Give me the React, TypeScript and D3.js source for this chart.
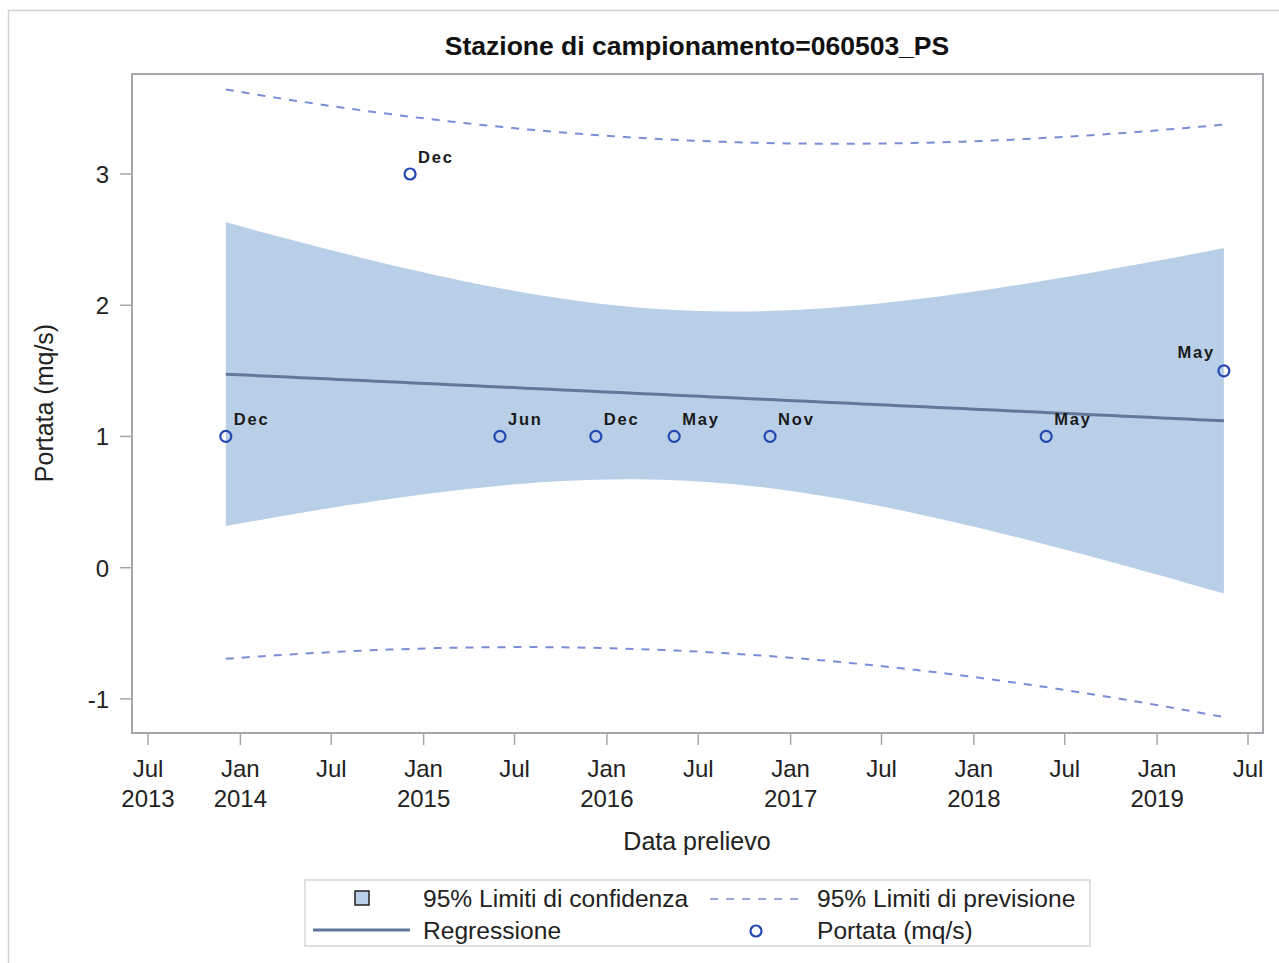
import React from "react";
import * as d3 from "d3";

const sampleDates = ["2013-12-03", "2014-12-05", "2015-06-02", "2015-12-10", "2016-05-14", "2016-11-21", "2018-05-25", "2019-05-14"];
const sampleValues = [1, 3, 1, 1, 1, 1, 1, 1.5];
const pointLabels = ["Dec", "Dec", "Jun", "Dec", "May", "Nov", "May", "May"];
const yTicks = [-1, 0, 1, 2, 3];
const titleText = "Stazione di campionamento=060503_PS";
const xLabel = "Data prelievo";
const yLabel = "Portata (mq/s)";
const legendLabels = ["95% Limiti di confidenza", "95% Limiti di previsione", "Regressione", "Portata (mq/s)"];
const T975_DF6 = 2.446912;

const W = 1279, H = 963;
const FL = 132, FR = 1263, FT = 74, FB = 733;
const FONT = "'Liberation Sans', Arial, sans-serif";

export default function App() {
  const parse = d3.timeParse("%Y-%m-%d");
  const dates = sampleDates.map((d) => parse(d) as Date);
  const x = d3.scaleTime().domain([new Date(2013, 6, 1), new Date(2019, 6, 1)]).range([148, 1248]);
  const y = d3.scaleLinear().domain([-1.26, 3.762]).range([FB, FT]);

  // OLS regression on time (days)
  const t = dates.map((d) => d.getTime() / 86400000);
  const n = t.length;
  const mt = d3.mean(t) as number;
  const my = d3.mean(sampleValues) as number;
  const sxx = d3.sum(t, (v) => (v - mt) ** 2);
  const sxy = d3.sum(t.map((v, i) => (v - mt) * (sampleValues[i] - my)));
  const b = sxy / sxx;
  const a = my - b * mt;
  const sse = d3.sum(t.map((v, i) => (sampleValues[i] - (a + b * v)) ** 2));
  const s = Math.sqrt(sse / (n - 2));
  const t0 = d3.min(t) as number, t1 = d3.max(t) as number;
  const steps = 80;
  const band = d3.range(steps + 1).map((k) => {
    const tv = t0 + ((t1 - t0) * k) / steps;
    const fit = a + b * tv;
    const se = Math.sqrt(1 / n + (tv - mt) ** 2 / sxx);
    const sp = Math.sqrt(1 + 1 / n + (tv - mt) ** 2 / sxx);
    return {
      date: new Date(tv * 86400000),
      fit,
      cl: fit - T975_DF6 * s * se,
      cu: fit + T975_DF6 * s * se,
      pl: fit - T975_DF6 * s * sp,
      pu: fit + T975_DF6 * s * sp,
    };
  });

  const area = d3.area<any>().x((d) => x(d.date)).y0((d) => y(d.cl)).y1((d) => y(d.cu));
  const lineOf = (key: string) => d3.line<any>().x((d) => x(d.date)).y((d) => y(d[key]))(band) as string;

  const xTicks = d3.timeMonth.every(6)!.range(new Date(2013, 6, 1), new Date(2019, 6, 2));
  const monthFmt = d3.timeFormat("%b");
  const yearFmt = d3.timeFormat("%Y");

  const bandColor = "#b9cfe7";
  const regColor = "#63779b";
  const predColor = "#7b8dd6";
  const ptColor = "#2448b0";
  const axisColor = "#a4a8ac";
  const textColor = "#222";

  const lx = 305, ly = 880, lw = 785, lh = 66;
  const r1 = 898, r2 = 930;
  const FS = 24;
  const LFS = 24.6;

  return (
    <svg width={W} height={H} style={{ position: "absolute", left: 0, top: 0 }} fontFamily={FONT}>
      <rect x={8.5} y={10.5} width={W} height={H} fill="white" stroke="#d2d2d2" strokeWidth={1.5} />
      <text x={697} y={55} textAnchor="middle" fontSize={26.5} fontWeight="bold" fill="#111">
        {titleText}
      </text>
      <clipPath id="plotclip">
        <rect x={FL} y={FT} width={FR - FL} height={FB - FT} />
      </clipPath>
      <g clipPath="url(#plotclip)">
        <path d={area(band) as string} fill={bandColor} />
        <path d={lineOf("pu")} fill="none" stroke={predColor} strokeWidth={2} strokeDasharray="8,8" />
        <path d={lineOf("pl")} fill="none" stroke={predColor} strokeWidth={2} strokeDasharray="8,8" />
        <path d={lineOf("fit")} fill="none" stroke={regColor} strokeWidth={3} />
        {dates.map((d, i) => (
          <circle key={i} cx={x(d)} cy={y(sampleValues[i])} r={5.5} fill="none" stroke={ptColor} strokeWidth={2.2} />
        ))}
        {dates.map((d, i) => {
          const last = i === dates.length - 1;
          return (
            <text key={"l" + i} x={x(d) + (last ? -9 : 8)} y={y(sampleValues[i]) - (last ? 13 : 11)} textAnchor={last ? "end" : "start"} fontSize={16.5} fontWeight="bold" letterSpacing={1.8} fill="#1a1a1a">
              {pointLabels[i]}
            </text>
          );
        })}
      </g>
      <rect x={FL} y={FT} width={FR - FL} height={FB - FT} fill="none" stroke={axisColor} strokeWidth={2} />
      {yTicks.map((v) => (
        <g key={v}>
          <line x1={FL - 12} x2={FL} y1={y(v)} y2={y(v)} stroke={axisColor} strokeWidth={1.5} />
          <text x={FL - 23} y={y(v) + 9} textAnchor="end" fontSize={FS} fill={textColor}>{v}</text>
        </g>
      ))}
      {xTicks.map((d, i) => {
        const showYear = d.getMonth() === 0 || i === 0;
        return (
          <g key={i}>
            <line x1={x(d)} x2={x(d)} y1={FB} y2={FB + 12} stroke={axisColor} strokeWidth={1.5} />
            <text x={x(d)} y={777} textAnchor="middle" fontSize={FS} fill={textColor}>{monthFmt(d)}</text>
            {showYear ? (
              <text x={x(d)} y={807} textAnchor="middle" fontSize={FS} fill={textColor}>{yearFmt(d)}</text>
            ) : null}
          </g>
        );
      })}
      <text x={697} y={850} textAnchor="middle" fontSize={25} fill={textColor}>{xLabel}</text>
      <text transform={`translate(53,${403}) rotate(-90)`} textAnchor="middle" fontSize={25} fill={textColor}>{yLabel}</text>

      <rect x={lx} y={ly} width={lw} height={lh} fill="white" stroke="#d6d6d6" strokeWidth={1.5} />
      <rect x={355} y={r1 - 7} width={14} height={14} fill={bandColor} stroke="#222" strokeWidth={1.5} />
      <text x={423} y={r1 + 9} fontSize={LFS} fill={textColor}>{legendLabels[0]}</text>
      <line x1={710} x2={800} y1={r1 + 1} y2={r1 + 1} stroke={predColor} strokeWidth={1.6} strokeDasharray="8,8" />
      <text x={817} y={r1 + 9} fontSize={LFS} fill={textColor}>{legendLabels[1]}</text>
      <line x1={313} x2={410} y1={r2} y2={r2} stroke={regColor} strokeWidth={3} />
      <text x={423} y={r2 + 9} fontSize={LFS} fill={textColor}>{legendLabels[2]}</text>
      <circle cx={756} cy={r2 + 1} r={5.5} fill="none" stroke={ptColor} strokeWidth={2.2} />
      <text x={817} y={r2 + 9} fontSize={LFS} fill={textColor}>{legendLabels[3]}</text>
    </svg>
  );
}
